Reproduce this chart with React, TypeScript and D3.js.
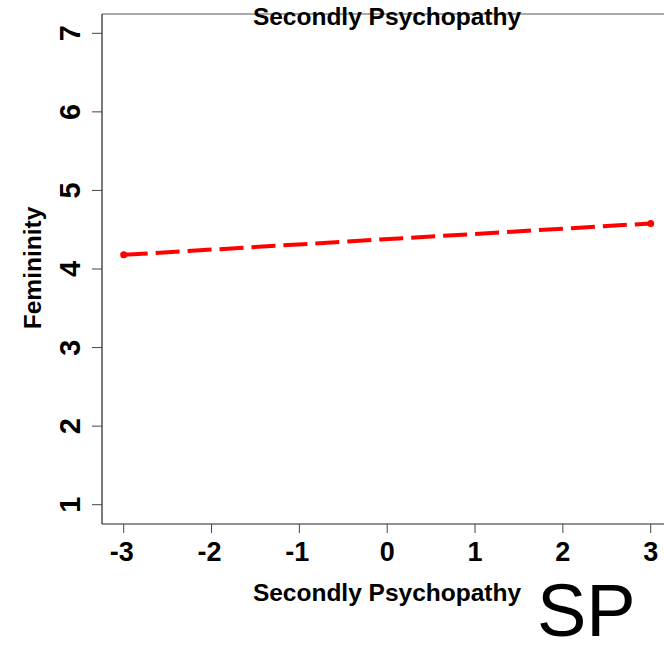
import React, { useEffect, useRef } from 'react';
import * as d3 from 'd3';

// Data
const xValues = [-3, 3];
const femininity = [4.18, 4.58];
const xTicks = [-3, -2, -1, 0, 1, 2, 3];
const yTicks = [1, 2, 3, 4, 5, 6, 7];
const chartTitle = 'Secondly Psychopathy';
const xLabel = 'Secondly Psychopathy';
const yLabel = 'Femininity';
const cornerTag = 'SP';

export default function App() {
  const svgRef = useRef<SVGSVGElement>(null);

  useEffect(() => {
    if (!svgRef.current) return;
    const svg = d3.select(svgRef.current);
    svg.selectAll('*').remove();

    const font = 'Liberation Sans, Arial, sans-serif';
    const box = { left: 102, top: 14, right: 700, bottom: 524 };

    const x = d3.scaleLinear().domain([-3, 3]).range([123.7, 650.7]);
    const y = d3.scaleLinear().domain([1, 7]).range([504.7, 33.3]);

    // plot frame (right side runs off the page)
    svg.append('line')
      .attr('x1', box.left).attr('x2', box.right)
      .attr('y1', box.top).attr('y2', box.top)
      .attr('stroke', '#555').attr('stroke-width', 1.2);
    svg.append('line')
      .attr('x1', box.left).attr('x2', box.right)
      .attr('y1', box.bottom).attr('y2', box.bottom)
      .attr('stroke', '#222').attr('stroke-width', 1.2);
    svg.append('line')
      .attr('x1', box.left).attr('x2', box.left)
      .attr('y1', box.top).attr('y2', box.bottom)
      .attr('stroke', '#222').attr('stroke-width', 1.2);

    // x ticks
    const xt = svg.append('g');
    xt.selectAll('line').data(xTicks).enter().append('line')
      .attr('x1', d => x(d)).attr('x2', d => x(d))
      .attr('y1', box.bottom).attr('y2', box.bottom + 9)
      .attr('stroke', '#444').attr('stroke-width', 1);
    xt.selectAll('text').data(xTicks).enter().append('text')
      .attr('x', d => x(d) - (d < 0 ? 2 : 0))
      .attr('y', 561)
      .attr('text-anchor', 'middle')
      .attr('font-family', font).attr('font-weight', 'bold').attr('font-size', 27)
      .text(d => String(d));

    // y ticks
    const yt = svg.append('g');
    yt.selectAll('line').data(yTicks).enter().append('line')
      .attr('x1', box.left - 10).attr('x2', box.left)
      .attr('y1', d => y(d)).attr('y2', d => y(d))
      .attr('stroke', '#444').attr('stroke-width', 1);
    yt.selectAll('text').data(yTicks).enter().append('text')
      .attr('transform', d => `translate(80,${y(d)}) rotate(-90)`)
      .attr('text-anchor', 'middle')
      .attr('font-family', font).attr('font-weight', 'bold').attr('font-size', 29)
      .text(d => String(d));

    // labels
    svg.append('text')
      .attr('x', 387).attr('y', 25)
      .attr('text-anchor', 'middle')
      .attr('font-family', font).attr('font-weight', 'bold').attr('font-size', 24.5)
      .text(chartTitle);
    svg.append('text')
      .attr('x', 387).attr('y', 601)
      .attr('text-anchor', 'middle')
      .attr('font-family', font).attr('font-weight', 'bold').attr('font-size', 24.5)
      .text(xLabel);
    svg.append('text')
      .attr('transform', `translate(41,268) rotate(-90)`)
      .attr('text-anchor', 'middle')
      .attr('font-family', font).attr('font-weight', 'bold').attr('font-size', 24.5)
      .text(yLabel);

    // the line
    const pts = xValues.map((v, i) => [v, femininity[i]] as [number, number]);
    const line = d3.line<[number, number]>().x(d => x(d[0])).y(d => y(d[1]));
    svg.append('path')
      .datum(pts)
      .attr('d', line)
      .attr('fill', 'none')
      .attr('stroke', '#ff0000')
      .attr('stroke-width', 4)
      .attr('stroke-dasharray', '24,8');
    svg.selectAll('.pt').data(pts).enter().append('circle')
      .attr('class', 'pt')
      .attr('cx', d => x(d[0])).attr('cy', d => y(d[1]))
      .attr('r', 3.5)
      .attr('fill', '#ff0000');

    // corner tag
    svg.append('text')
      .attr('x', 537).attr('y', 636)
      .attr('font-family', font).attr('font-size', 74)
      .text(cornerTag);
  }, []);

  return (
    <svg
      ref={svgRef}
      width={664}
      height={651}
      style={{ position: 'absolute', left: 0, top: 0, background: '#fff' }}
    />
  );
}
